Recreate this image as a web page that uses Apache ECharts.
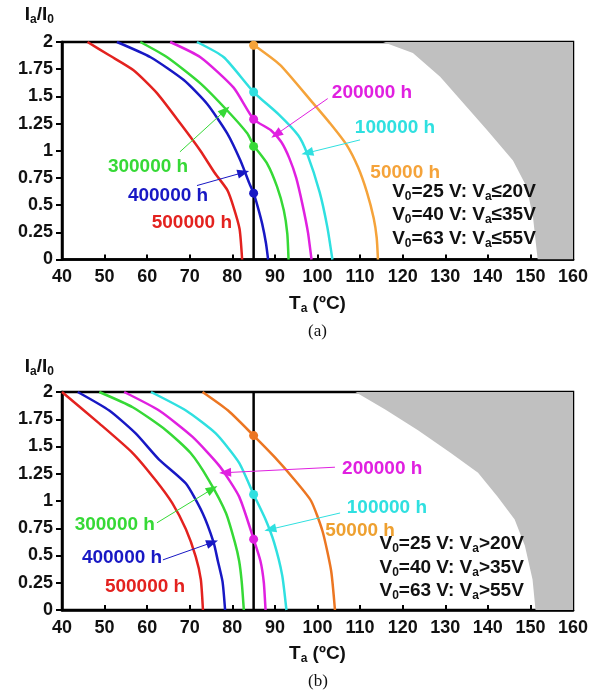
<!DOCTYPE html>
<html><head><meta charset="utf-8">
<script src="https://cdn.jsdelivr.net/npm/echarts@6/dist/echarts.min.js"></script>
<style>html,body{margin:0;padding:0;background:#fff}#c{width:602px;height:693px}</style>
</head><body><div id="c"></div>
<script>
// ---------- data: [Ta (°C), Ia/I0] ----------
// Panel (a)
const aRed     = [[46.0,2],[51,1.88],[56.8,1.74],[62.3,1.53],[67.8,1.25],[72.5,1.0],[75.8,0.80],[78.8,0.64],[80.3,0.48],[81.7,0.28],[82.3,0]];
const aBlue    = [[52.9,2],[60.8,1.86],[68.6,1.65],[74.1,1.43],[78.8,1.16],[81.9,0.91],[84.0,0.70],[85.0,0.61],[86.0,0.48],[87.0,0.33],[87.9,0.15],[88.4,0]];
const aGreen   = [[58.4,2],[64.7,1.86],[72.5,1.62],[78.8,1.37],[83.5,1.16],[85.0,1.05],[88.2,0.88],[90.5,0.67],[92.1,0.45],[92.9,0.24],[93.2,0]];
const aMagenta = [[65.4,2],[72.5,1.86],[80.3,1.58],[85.0,1.29],[89.0,1.19],[91.5,1.08],[93.4,0.93],[95.0,0.75],[96.5,0.5],[97.8,0.24],[98.6,0]];
const aCyan    = [[71.7,2],[78.0,1.86],[85.0,1.54],[91.0,1.33],[95.5,1.14],[97.5,0.98],[100.5,0.62],[102.3,0.30],[103.5,0]];
const aOrange  = [[84.8,1.98],[91.2,1.79],[98.9,1.44],[103.0,1.25],[106.9,1.05],[109.5,0.85],[111.6,0.62],[113.2,0.38],[113.9,0.20],[114.2,0]];
const aGray    = [[115.4,2],[122.4,1.90],[128.8,1.68],[135.1,1.40],[139.8,1.19],[145.9,0.91],[149.1,0.67],[150.6,0.39],[151.7,0],[160,0]];
const aDots    = [1.97,1.54,1.29,1.04,0.61]; // orange, cyan, magenta, green, blue at Ta = 85

// Panel (b)
const bRed     = [[40.0,2],[48.8,1.71],[56.6,1.44],[62.0,1.19],[65.9,0.98],[69.1,0.74],[71.4,0.49],[72.6,0.28],[73.1,0]];
const bBlue    = [[43.7,2],[51.1,1.83],[57.3,1.62],[62.8,1.38],[69.1,1.16],[73.0,0.89],[75.6,0.62],[76.6,0.45],[77.7,0.26],[78.3,0]];
const bGreen   = [[48.75,2],[56.6,1.86],[64.4,1.65],[70.2,1.44],[74.5,1.19],[78.5,0.89],[80.6,0.62],[81.6,0.45],[82.2,0.26],[82.7,0]];
const bMagenta = [[54.6,2],[62.8,1.83],[70.6,1.59],[77.0,1.32],[81.6,1.04],[85.0,0.65],[86.6,0.45],[87.4,0.25],[87.8,0]];
const bCyan    = [[60.9,2],[69.1,1.83],[76.1,1.62],[81.6,1.35],[85.0,1.06],[87.8,0.83],[89.8,0.62],[91.7,0.32],[92.7,0]];
const bOrange  = [[73.0,2],[79.0,1.83],[85.0,1.60],[90.0,1.40],[94.5,1.2],[98.5,1.0],[101.2,0.72],[103.2,0.36],[104.1,0]];
const bGray    = [[108.9,2],[115.9,1.84],[123.6,1.65],[131.3,1.44],[137.7,1.26],[142.3,1.04],[146.3,0.83],[148.7,0.59],[150.5,0.28],[151.2,0],[160,0]];
const bDots    = [1.60,1.06,0.65]; // orange, cyan, magenta at Ta = 85

const refTemp = 85;
const xTicks = {min: 40, max: 160, interval: 10};
const yTicks = {min: 0, max: 2, interval: 0.25};

// annotation texts & anchor points [Ta, Ia/I0]
const lifeTexts = ['500000 h','400000 h','300000 h','200000 h','100000 h','50000 h'];
const aTextPos = [[70.5,0.34],[64.9,0.59],[60.2,0.85],[112.8,1.53],[118.2,1.21],[120.6,0.80]];
const bTextPos = [[59.5,0.21],[54.1,0.48],[52.4,0.78],[115.2,1.30],[116.3,0.94],[110.0,0.73]];
// arrows: [label index, start, end]
const aArrows = [[1,[71.7,0.68],[82.6,0.80]],[2,[67.7,0.99],[78.3,1.37]],[3,[102.4,1.48],[90.3,1.15]],[4,[110.0,1.10],[97.6,0.98]]];
const bArrows = [[1,[63.7,0.46],[75.3,0.62]],[2,[62.3,0.80],[75.3,1.11]],[3,[104.1,1.31],[78.3,1.26]],[4,[105.3,0.89],[88.9,0.74]]];
// voltage condition lines
const v0List = ['25','40','63'];
const aVa = ['≤20V','≤35V','≤55V'];
const bVa = ['>20V','>35V','>55V'];
const aCondPos = [[134.4,0.62],[134.4,0.41],[134.4,0.19]];
const bCondPos = [[131.5,0.61],[131.5,0.39],[131.5,0.18]];

// ---------- styles ----------
const FONT = 'Liberation Sans, Arial, sans-serif';
const cRed='#e3221f', cBlue='#1818c4', cGreen='#36d936', cMag='#e020e0', cCyan='#2fe0e0', cOrangeA='#f5a33a', cOrangeB='#ec7622';
const lifeColorsA = [cRed,cBlue,cGreen,cMag,cCyan,cOrangeA];
const lifeColorsB = [cRed,cBlue,cGreen,cMag,cCyan,'#eea030'];

const richSub = {
  b:{fontFamily:FONT,fontWeight:'bold',fontSize:19,color:'#111',lineHeight:22},
  s:{fontFamily:FONT,fontWeight:'bold',fontSize:12,color:'#111',lineHeight:12,verticalAlign:'bottom',padding:[0,0,0,0]}
};

function panel(i, curves, gray, dots, dotColors, textPos, textColors, arrows, condPos, vaList){
  const s = [];
  s.push({type:'line',xAxisIndex:i,yAxisIndex:i,data:gray,symbol:'none',lineStyle:{width:0},
    areaStyle:{color:'#c0c0c0',opacity:1,origin:'end'},z:1,silent:true});
  s.push({type:'line',xAxisIndex:i,yAxisIndex:i,data:[[refTemp,0],[refTemp,2]],symbol:'none',
    lineStyle:{color:'#000',width:2.5},z:2});
  curves.forEach(([d,c])=>s.push({type:'line',xAxisIndex:i,yAxisIndex:i,data:d,symbol:'none',
    smooth:0.2,lineStyle:{color:c,width:2.5},z:3}));
  s.push({type:'scatter',xAxisIndex:i,yAxisIndex:i,symbolSize:9,z:5,
    data:dots.map((v,k)=>({value:[refTemp,v],itemStyle:{color:dotColors[k],opacity:1}}))});
  // arrows
  s.push({type:'line',xAxisIndex:i,yAxisIndex:i,data:[],z:4,
    markLine:{silent:true,symbol:['none','triangle'],symbolSize:[9,12],animation:false,label:{show:false},
      data:arrows.map(([k,a,b])=>[{coord:a,lineStyle:{color:textColors[k],width:1,type:'solid'},itemStyle:{color:textColors[k]}},{coord:b}])}});
  // life labels
  s.push({type:'scatter',xAxisIndex:i,yAxisIndex:i,symbolSize:0.1,itemStyle:{color:'rgba(0,0,0,0)',opacity:1},z:6,
    data:textPos.map((p,k)=>({value:p,label:{show:true,position:'inside',formatter:lifeTexts[k],
      color:textColors[k],fontFamily:FONT,fontWeight:'bold',fontSize:19}}))});
  // condition labels
  s.push({type:'scatter',xAxisIndex:i,yAxisIndex:i,symbolSize:0.1,itemStyle:{color:'rgba(0,0,0,0)',opacity:1},z:6,
    data:condPos.map((p,k)=>({value:p,label:{show:true,position:'inside',
      formatter:'{b|V}{s|0}{b|='+v0List[k]+' V: V}{s|a}{b|'+vaList[k]+'}',rich:richSub}}))});
  return s;
}

const axisBase = {
  x: {type:'value',min:xTicks.min,max:xTicks.max,interval:xTicks.interval,
    axisLine:{show:true,lineStyle:{color:'#000',width:2.5}},
    axisTick:{show:true,inside:true,length:5,lineStyle:{color:'#000',width:2}},
    splitLine:{show:false},
    axisLabel:{color:'#111',fontFamily:FONT,fontWeight:'bold',fontSize:18,margin:9},
    name:'{b|T}{s|a}{b| (ºC)}',nameLocation:'middle',nameGap:33,
    nameTextStyle:{rich:richSub}},
  y: {type:'value',min:yTicks.min,max:yTicks.max,interval:yTicks.interval,
    axisLine:{show:true,lineStyle:{color:'#000',width:2.5}},
    axisTick:{show:true,inside:false,length:6,lineStyle:{color:'#000',width:2}},
    splitLine:{show:false},
    axisLabel:{color:'#111',fontFamily:FONT,fontWeight:'bold',fontSize:18,margin:9},
    name:'{b|I}{s|a}{b|/I}{s|0}',nameLocation:'end',
    nameTextStyle:{rich:richSub,align:'right',padding:[0,8,0,0]}}
};

const option = {
  animation:false,
  backgroundColor:'#fff',
  grid:[
    {left:62,top:42,width:511,height:217.5,show:true,borderColor:'#000',borderWidth:2.5,backgroundColor:'transparent'},
    {left:62,top:392,width:511,height:218,show:true,borderColor:'#000',borderWidth:2.5,backgroundColor:'transparent'}
  ],
  xAxis:[Object.assign({gridIndex:0},axisBase.x),Object.assign({gridIndex:1},axisBase.x)],
  yAxis:[Object.assign({gridIndex:0,nameGap:16},axisBase.y),Object.assign({gridIndex:1,nameGap:14},axisBase.y)],
  graphic:[
    {type:'text',left:308,top:323,style:{text:'(a)',font:'17px "Liberation Serif", serif',fill:'#111'}},
    {type:'text',left:308,top:673,style:{text:'(b)',font:'17px "Liberation Serif", serif',fill:'#111'}}
  ],
  series:[].concat(
    panel(0,[[aRed,cRed],[aBlue,cBlue],[aGreen,cGreen],[aMagenta,cMag],[aCyan,cCyan],[aOrange,cOrangeA]],
      aGray,aDots,[cOrangeA,cCyan,cMag,cGreen,cBlue],aTextPos,lifeColorsA,aArrows,aCondPos,aVa),
    panel(1,[[bRed,cRed],[bBlue,cBlue],[bGreen,cGreen],[bMagenta,cMag],[bCyan,cCyan],[bOrange,cOrangeB]],
      bGray,bDots,[cOrangeB,cCyan,cMag],bTextPos,lifeColorsB,bArrows,bCondPos,bVa)
  )
};
const chart = echarts.init(document.getElementById('c'),null,{renderer:'canvas'});
chart.setOption(option);
</script></body></html>
